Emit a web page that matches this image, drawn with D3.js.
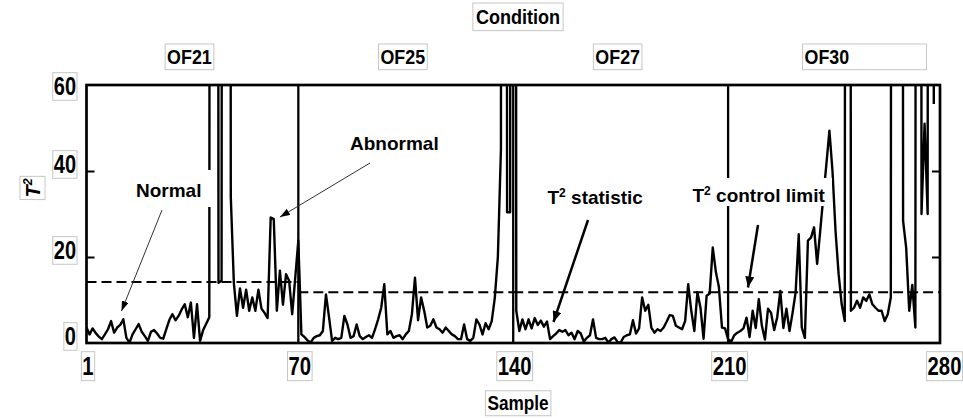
<!DOCTYPE html>
<html>
<head>
<meta charset="utf-8">
<script src="https://cdn.jsdelivr.net/npm/d3@7"></script>
<style>
  body { margin: 0; background: #fff; }
  text { font-family: "Liberation Sans", Arial, sans-serif; font-weight: bold; fill: #000; }
</style>
</head>
<body>
<script>
var width = 963, height = 418;

// conditions and their sample ranges
var conditions = ['OF21', 'OF25', 'OF27', 'OF30'];
var condStart = [1, 70, 140, 210];
var condEnd = [70, 140, 210, 280];
var limits = [14.2, 11.8, 11.8, 11.8];   // T2 control limit per condition
var separators = [70, 140, 210];
var xTicks = [1, 70, 140, 210, 280];
var yTicks = [0, 20, 40, 60];

// T2 statistic per sample (values far above 60 are off the chart)
var of21 = [3.6, 2.0, 3.4, 2.3, 1.5, 0.9, 2.0, 3.2, 5.1, 2.4,
            3.6, 4.2, 5.5, 1.2, 0.1, 2.0, 3.2, 4.4, 2.6, 1.6,
            0.5, 2.6, 3.0, 2.2, 1.2, 1.0, 3.2, 5.4, 6.7, 5.3,
            6.3, 7.8, 9.0, 6.0, 9.4, 1.2, 9.0, 0.5, 3.0, 4.5,
            6.0, 1000, 1000, 14.0, 14.5, 1000, 1000, 34, 14, 6.3,
            12.7, 8.2, 12.4, 7.5, 10.6, 7.5, 12.4, 8.0, 7.0, 5.8,
            29.2, 28.8, 7.5, 16.8, 8.9, 16.0, 14.5, 6.7, 15.2, 23.8];
var of25 = [2.0, 1.4, 0.6, 0.1, 1.2, 1.6, 1.8, 2.8, 11.3, 6.0,
            0.5, 1.2, 0.9, 1.2, 6.3, 4.3, 1.2, 1.6, 4.3, 1.6,
            0.9, 1.4, 1.8, 1.2, 3.2, 5.5, 8.2, 13.7, 2.0, 2.8,
            1.2, 1.6, 1.8, 0.9, 2.0, 2.8, 6.7, 15.2, 5.3, 10.6,
            7.5, 3.6, 4.0, 5.5, 3.6, 3.2, 2.4, 3.6, 2.8, 2.0,
            1.6, 0.9, 0.9, 4.3, 0.9, 0.5, 1.2, 5.5, 4.3, 2.0,
            4.6, 3.2, 5.1, 10.5, 20, 45, 1000, 30.4, 30.4, 1000];
var of27 = [7.5, 2.8, 5.5, 3.2, 5.5, 3.4, 5.8, 4.2, 5.2, 3.8,
            5.0, 0.9, 1.6, 2.2, 3.0, 2.6, 3.0, 1.8, 2.4, 0.9,
            2.8, 2.2, 0.3, 1.2, 1.8, 5.5, 1.2, 0.9, 0.9, 1.2,
            0.1, 0.9, 1.3, 0.2, 0.1, 1.4, 1.8, 2.0, 5.3, 2.2,
            3.4, 10.6, 7.5, 8.9, 3.6, 2.4, 3.2, 2.8, 3.6, 5.0,
            6.5, 6.3, 4.0, 3.6, 3.2, 5.1, 13.7, 7.5, 2.8, 11.8,
            8.2, 1.0, 11.0, 11.5, 22.2, 16.6, 13.0, 3.6, 3.4, 0.9];
var of30 = [0.3, 1.8, 2.4, 2.8, 3.4, 5.9, 1.4, 7.5, 3.5, 10.2,
            4.0, 0.8, 8.0, 7.0, 3.0, 6.0, 12.1, 3.5, 8.0, 2.8,
            7.0, 11.8, 25.3, 3.6, 1.2, 23.8, 24.5, 26.9, 18.4, 26.0,
            33.9, 41.5, 49.4, 40, 26, 16, 9, 5.1, 1000, 7.5,
            8.2, 9.8, 8.2, 10.6, 9.8, 11.3, 9.0, 8.2, 7.5, 7.5,
            5.1, 6.7, 10.6, 1000, 1000, 1000, 28.4, 22.2, 7.5, 13.5,
            3.6, 1000, 30, 51, 30, 1000, 55.6];

var t2 = of21.concat(of25, of27, of30);

var svg = d3.select('body').append('svg').attr('width', width).attr('height', height);
svg.append('rect').attr('width', width).attr('height', height).attr('fill', '#fff');

var x = d3.scaleLinear().domain([1, 280]).range([86.5, 943]);
var y = d3.scaleLinear().domain([0, 60]).range([343, 85]);
var plotL = x(1), plotR = 940, plotT = y(60), plotB = y(0);

var defs = svg.append('defs');
defs.append('clipPath').attr('id', 'clip')
  .append('rect').attr('x', plotL).attr('y', plotT).attr('width', plotR - plotL).attr('height', plotB - plotT);

function marker(id, len, wid) {
  defs.append('marker').attr('id', id)
    .attr('viewBox', '0 0 10 10').attr('refX', 10).attr('refY', 5)
    .attr('markerWidth', len).attr('markerHeight', wid)
    .attr('markerUnits', 'userSpaceOnUse').attr('orient', 'auto')
    .attr('preserveAspectRatio', 'none')
    .append('path').attr('d', 'M0,0L10,5L0,10z').attr('fill', '#000');
}
marker('headThin', 10, 7);
marker('headThick', 11, 9);

var plot = svg.append('g').attr('clip-path', 'url(#clip)');

// control limits
plot.selectAll('.limit').data(limits).enter().append('line')
  .attr('class', 'limit')
  .attr('x1', function(d, i) { return x(condStart[i]); })
  .attr('x2', function(d, i) { return i === limits.length - 1 ? plotR : x(condEnd[i]); })
  .attr('y1', function(d) { return y(d); })
  .attr('y2', function(d) { return y(d); })
  .attr('stroke', '#000').attr('stroke-width', 2).attr('stroke-dasharray', '10,5');

// condition separators
plot.selectAll('.sep').data(separators).enter().append('line')
  .attr('class', 'sep')
  .attr('x1', function(d) { return x(d); }).attr('x2', function(d) { return x(d); })
  .attr('y1', y(0)).attr('y2', y(60))
  .attr('stroke', '#000').attr('stroke-width', 2.3);

// T2 statistic
var line = d3.line()
  .x(function(d, i) { return x(i + 1); })
  .y(function(d) { return y(d); });
plot.append('path').datum(t2)
  .attr('d', line)
  .attr('fill', 'none').attr('stroke', '#000').attr('stroke-width', 2.4)
  .attr('stroke-linejoin', 'round');

// frame and inner ticks
svg.append('rect').attr('x', plotL).attr('y', plotT).attr('width', plotR - plotL).attr('height', plotB - plotT)
  .attr('fill', 'none').attr('stroke', '#000').attr('stroke-width', 2.7);

var leftAxis = svg.append('g').attr('transform', 'translate(' + plotL + ',0)')
  .call(d3.axisRight(y).tickValues([20, 40]).tickSize(8).tickFormat(''));
var rightAxis = svg.append('g').attr('transform', 'translate(' + plotR + ',0)')
  .call(d3.axisLeft(y).tickValues([20, 40]).tickSize(8).tickFormat(''));
[leftAxis, rightAxis].forEach(function(a) {
  a.select('.domain').remove();
  a.selectAll('line').attr('stroke', '#000').attr('stroke-width', 2);
});

// boxed label helper
function label(txt, px, py, o) {
  var sx = o.sx || 1, pad = o.pad === undefined ? 1 : o.pad;
  var g = svg.append('g').attr('transform', 'translate(' + px + ',' + py + ')' + (o.rotate ? ' rotate(' + o.rotate + ')' : ''));
  var r = g.append('rect');
  var t = g.append('text').attr('transform', 'scale(' + sx + ',1)')
    .attr('text-anchor', o.anchor || 'middle').attr('dy', '0.35em')
    .style('font-size', o.size + 'px');
  if (o.italic) t.style('font-style', 'italic');
  if (o.sup) {
    t.append('tspan').text(txt);
    t.append('tspan').text(o.sup).attr('dy', -o.size * 0.4).style('font-size', (o.size * 0.62) + 'px');
  } else {
    t.text(txt);
  }
  var b = t.node().getBBox();
  var w = o.boxW || (b.width * sx + 2 * pad);
  r.attr('x', b.x * sx - pad).attr('y', b.y - pad + 1)
    .attr('width', w).attr('height', b.height + 2 * pad - 2)
    .attr('fill', '#fff').attr('stroke', '#c6c6c6').attr('stroke-width', 1);
}

// axis labels
yTicks.forEach(function(v) {
  label(String(v), 76, y(v) - 7 + (v === 60 ? 8 : 0), { size: 25, sx: 0.8, anchor: 'end' });
});
xTicks.forEach(function(v) {
  label(String(v), x(v) + 1.5, 366, { size: 26, sx: 0.78 });
});
label('Condition', 518, 17, { size: 21, sx: 0.86, pad: 3 });
label('Sample', 518, 403, { size: 21, sx: 0.82, pad: 2 });
label('T', 33, 188, { size: 20, italic: true, rotate: -90, sup: '2', pad: 2 });

conditions.forEach(function(c, i) {
  var mid = x((condStart[i] + condEnd[i]) / 2) - 3;
  if (i === conditions.length - 1) {
    label(c, mid - 28, 57, { size: 21, sx: 0.85, anchor: 'start', pad: 2, boxW: 124 });
  } else {
    label(c, mid, 57, { size: 21, sx: 0.85, pad: 2 });
  }
});

// annotations (white boxes hide what is behind them)
function note(parts, px, py, box) {
  if (box) {
    svg.append('rect').attr('x', box[0]).attr('y', box[1]).attr('width', box[2] - box[0]).attr('height', box[3] - box[1]).attr('fill', '#fff');
  }
  var t = svg.append('text').attr('x', px).attr('y', py).style('font-size', '19px');
  parts.forEach(function(p) {
    var s = t.append('tspan').text(p.t);
    if (p.sup) s.attr('dy', -7).style('font-size', '12px');
    if (p.down) s.attr('dy', 7);
  });
}
function arrow(x1, y1, x2, y2, thick) {
  svg.append('line').attr('x1', x1).attr('y1', y1).attr('x2', x2).attr('y2', y2)
    .attr('stroke', thick ? '#000' : '#333').attr('stroke-width', thick ? 2.5 : 1)
    .attr('marker-end', thick ? 'url(#headThick)' : 'url(#headThin)');
}

note([{ t: 'Normal' }], 136, 196.5, [127, 170, 213, 207]);
arrow(162, 210, 121.5, 311, false);

note([{ t: 'Abnormal' }], 350, 150);
arrow(370, 163, 280, 217, false);

note([{ t: 'T' }, { t: '2', sup: true }, { t: ' statistic', down: true }], 547.5, 204);
arrow(588, 220, 553.5, 322, true);

note([{ t: 'T' }, { t: '2', sup: true }, { t: ' control limit', down: true }], 692.5, 202, [688, 178, 832, 206]);
arrow(758, 225, 748, 287.5, true);
</script>
</body>
</html>
